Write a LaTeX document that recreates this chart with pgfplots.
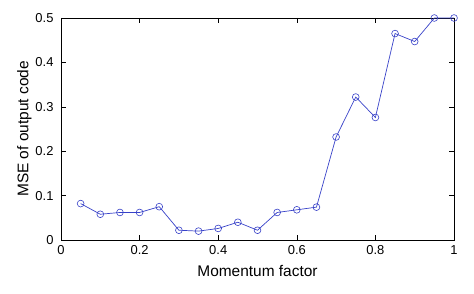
\documentclass[border=0pt]{standalone}
\usepackage{fontspec}
\setmainfont{Liberation Sans}
\usepackage{pgfplots}
\pgfplotsset{compat=1.18}
\definecolor{lineblue}{RGB}{55,65,200}
\begin{document}
\begin{tikzpicture}
\begin{axis}[
  at={(0,0)}, anchor=south west,
  scale only axis, width=393bp, height=222bp,
  xmin=0, xmax=1, ymin=0, ymax=0.5,
  xtick={0,0.2,0.4,0.6,0.8,1},
  ytick={0,0.1,0.2,0.3,0.4,0.5},
  /pgf/number format/assume math mode=true,
  tick label style={font=\fontsize{13}{15}\selectfont},
  yticklabel style={xshift=-4bp},
  xticklabel style={yshift=-2bp},
  label style={font=\fontsize{15.5}{18}\selectfont},
  xlabel={Momentum factor},
  ylabel={MSE of output code},
  xlabel style={yshift=-4bp},
  ylabel style={yshift=-3bp},
  tick align=inside,
  major tick length=5bp,
  axis line style={black, line width=0.6pt},
  every tick/.style={black, line width=0.5pt},
]
\addplot[lineblue, line width=0.7pt, mark=o, mark size=3.4bp, mark options={lineblue, line width=0.6pt}] coordinates {
(0.05,0.082) (0.10,0.058) (0.15,0.062) (0.20,0.062) (0.25,0.075)
(0.30,0.022) (0.35,0.020) (0.40,0.026) (0.45,0.040) (0.50,0.022)
(0.55,0.062) (0.60,0.068) (0.65,0.074) (0.70,0.232) (0.75,0.322)
(0.80,0.276) (0.85,0.465) (0.90,0.447) (0.95,0.500) (1.00,0.500)
};
\end{axis}
\pgfresetboundingbox
\path[use as bounding box] (-61bp,-54bp) rectangle (413bp,240bp);
\end{tikzpicture}
\end{document}
